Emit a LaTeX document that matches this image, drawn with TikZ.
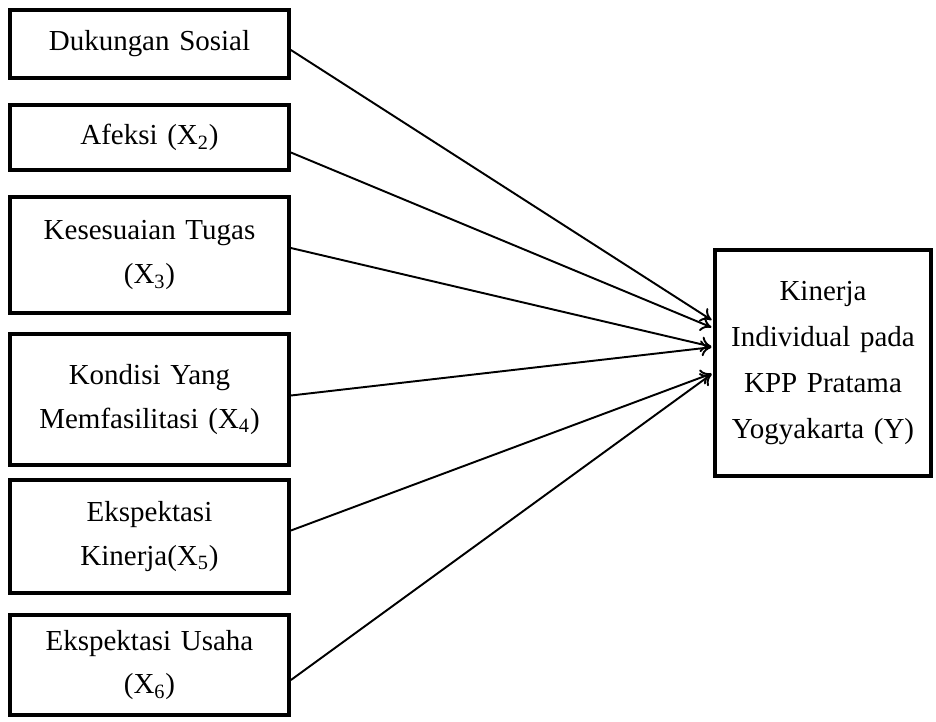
\documentclass[tikz,border=0pt]{standalone}
\usepackage{fontspec}
\setmainfont{Liberation Serif}
\usetikzlibrary{calc, arrows.meta}

\tikzstyle{var} = [draw, line width=2.2pt, minimum width=5.58cm, text width=5.4cm, align=center, inner sep=0pt, font=\fontsize{16.5}{25}\selectfont]
\tikzstyle{dep} = [draw, line width=2.2pt, minimum width=4.32cm, minimum height=4.52cm, text width=4.2cm, align=center, inner sep=0pt, font=\fontsize{16.5}{26}\selectfont]
\tikzstyle{link} = [-{To[length=6pt, width=9pt]}, line width=1.1pt, shorten >=1pt]

\begin{document}
\begin{tikzpicture}[x=0.02cm, y=-0.02cm]
\useasboundingbox (0,0) rectangle (936,721);

% independent variables
\node[var, minimum height=1.36cm] (dukungan) at (149.5,44) {Dukungan Sosial};
\node[var, minimum height=1.30cm] (afeksi) at (149.5,137.5) {Afeksi (X\textsubscript{2})};
\node[var, minimum height=2.32cm] (tugas) at (149.5,255) {Kesesuaian Tugas \\ (X\textsubscript{3})};
\node[var, minimum height=2.62cm] (kondisi) at (149.5,399.5) {Kondisi Yang \\ Memfasilitasi (X\textsubscript{4})};
\node[var, minimum height=2.26cm] (ekskinerja) at (149.5,536.5) {Ekspektasi \\ Kinerja(X\textsubscript{5})};
\node[var, minimum height=2.00cm] (eksusaha) at (149.5,665) {Ekspektasi Usaha \\ (X\textsubscript{6})};

% dependent variable
\node[dep] (kinerja) at (823,363) {Kinerja \\ Individual pada \\ KPP Pratama \\ Yogyakarta (Y)};

% paths
\draw[link] ($(dukungan.east)+(0,6)$) -- ($(kinerja.west)+(0,-42)$);
\draw[link] ($(afeksi.east)+(0,15)$) -- ($(kinerja.west)+(0,-35)$);
\draw[link] ($(tugas.east)+(0,-7)$) -- ($(kinerja.west)+(0,-16)$);
\draw[link] ($(kondisi.east)+(0,-4)$) -- ($(kinerja.west)+(0,-16)$);
\draw[link] ($(ekskinerja.east)+(0,-6)$) -- ($(kinerja.west)+(0,10)$);
\draw[link] ($(eksusaha.east)+(0,15)$) -- ($(kinerja.west)+(0,10)$);
\end{tikzpicture}
\end{document}
